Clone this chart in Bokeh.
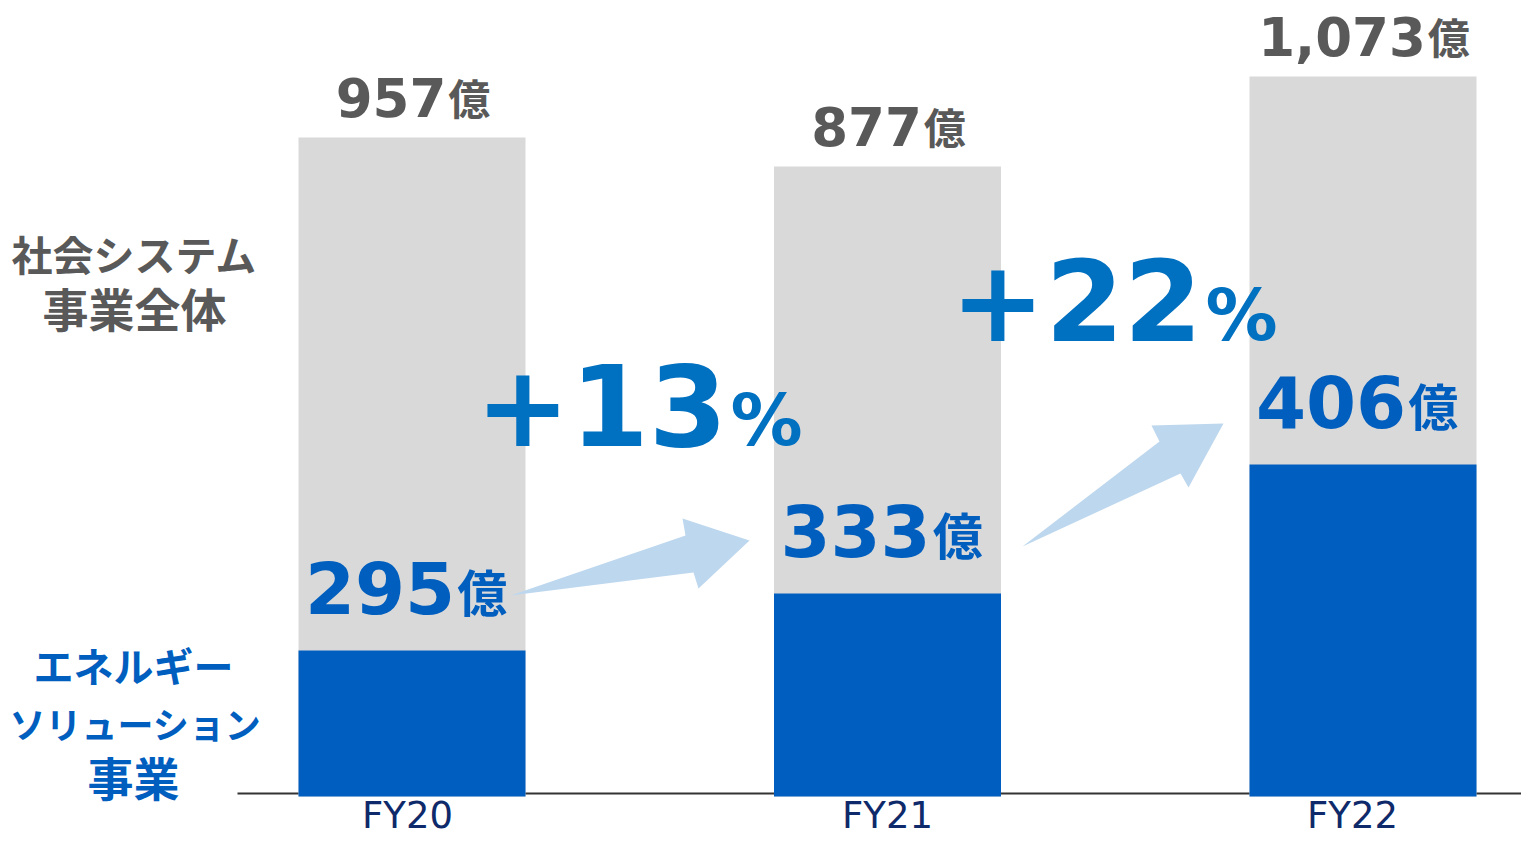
from bokeh.plotting import figure
from bokeh.models import Range1d
from bokeh.core.properties import value
from bokeh.embed import file_html
from bokeh.resources import INLINE

# ---- data ----
categories = ["FY20", "FY21", "FY22"]
total_values = [957, 877, 1073]        # 社会システム事業全体 (億)
energy_values = [295, 333, 406]        # エネルギーソリューション事業 (億)
# bar heights as drawn in the original (the picture is not to scale)
total_drawn = [659, 630, 720]
energy_drawn = [146, 203, 332]
growth_labels = ["+13", "+22"]
unit = "億"

# ---- styling ----
GREY_BAR = "#D9D9D9"
BLUE_BAR = "#005EC0"
BLUE_TXT = "#005EBF"
PCT_TXT = "#0070C0"
GREY_TXT = "#595959"
NAVY = "#0E2A6A"
ARROW = "#BDD7EE"
NUM_FONT = value("DejaVu Sans")
JP_FONT = value("Noto Sans CJK JP")
NUM_SHIFT = 0.38   # empirical baseline correction (fraction of font size)
JP_SHIFT = 0.50

W, H = 1521, 836
p = figure(width=W, height=H, output_backend="svg", toolbar_location=None,
           x_range=Range1d(0, W), y_range=Range1d(796 - H, 796),
           min_border=0, outline_line_color=None)
p.axis.visible = False
p.grid.visible = False
p.background_fill_color = "white"
p.border_fill_color = "white"

x0, step, bw = 411.5, 475.5, 227
xs = [x0 + i * step for i in range(len(categories))]

# baseline
p.segment(x0=237, y0=3, x1=1537, y1=3, line_color="#333333", line_width=2)

# bars
p.vbar(x=xs, top=total_drawn, bottom=0, width=bw, fill_color=GREY_BAR, line_color=None)
p.vbar(x=xs, top=energy_drawn, bottom=0, width=bw, fill_color=BLUE_BAR, line_color=None)

def img(pts):
    return [q[0] for q in pts], [796 - q[1] for q in pts]

# arrows
a1 = [(510, 595), (685, 535), (682, 518), (749, 540), (698, 588), (693, 572)]
a2 = [(1022, 546), (1159, 441), (1151, 425), (1223, 423), (1188, 487), (1180, 473)]
for a in (a1, a2):
    ax, ay = img(a)
    p.patch(ax, ay, fill_color=ARROW, line_color=None)

def digit_width(s, size):
    return sum((0.696 if c.isdigit() else 0.38) for c in s) * size

def value_label(x, y, num, dsize, usize, color):
    s = f"{num:,}"
    wd = digit_width(s, dsize)
    group = wd + usize
    join = x - group / 2 + wd
    p.text(x=[join], y=[y + NUM_SHIFT * dsize], text=[s], text_align="right",
           text_baseline="alphabetic", text_font=NUM_FONT, text_font_style="bold",
           text_font_size=f"{dsize}px", text_color=color)
    p.text(x=[join + 2], y=[y + JP_SHIFT * usize], text=[unit], text_align="left",
           text_baseline="alphabetic", text_font=JP_FONT, text_font_style="bold",
           text_font_size=f"{usize}px", text_color=color)

for i in range(len(categories)):
    value_label(xs[i] + 0, total_drawn[i] + 20, total_values[i], 53, 42, GREY_TXT)
    value_label(xs[i] - 7, energy_drawn[i] + 36, energy_values[i], 72, 50, BLUE_TXT)

# category labels
p.text(x=[407, 887, 1352], y=[796 - 829 + NUM_SHIFT * 37] * 3, text=categories,
       text_align="center", text_baseline="alphabetic", text_font=NUM_FONT,
       text_font_size="37px", text_color=NAVY)

# growth labels
g_join = [727, 1202]
g_base = [796 - 447 + NUM_SHIFT * 112, 796 - 342 + NUM_SHIFT * 112]
p_base = [796 - 447 + NUM_SHIFT * 72, 796 - 342 + NUM_SHIFT * 72]
p.text(x=g_join, y=g_base, text=growth_labels, text_align="right", text_baseline="alphabetic",
       text_font=NUM_FONT, text_font_style="bold", text_font_size="113px", text_color=PCT_TXT)
p.text(x=[j + 3 for j in g_join], y=p_base, text=["%", "%"], text_align="left",
       text_baseline="alphabetic", text_font=NUM_FONT, text_font_style="bold",
       text_font_size="72px", text_color=PCT_TXT)

# left legends
def legend_line(x, y_img, txt, size, color):
    p.text(x=[x], y=[796 - y_img + JP_SHIFT * size], text=[txt], text_align="center",
           text_baseline="alphabetic", text_font=JP_FONT, text_font_style="bold",
           text_font_size=f"{size}px", text_color=color)

legend_line(134, 273, "社会システム", 41, GREY_TXT)
legend_line(134, 329, "事業全体", 46, GREY_TXT)
legend_line(133, 684, "エネルギー", 40, BLUE_TXT)
legend_line(135, 740, "ソリューション", 36, BLUE_TXT)
legend_line(133, 798, "事業", 46, BLUE_TXT)

open("out.html", "w").write(file_html(p, INLINE))
